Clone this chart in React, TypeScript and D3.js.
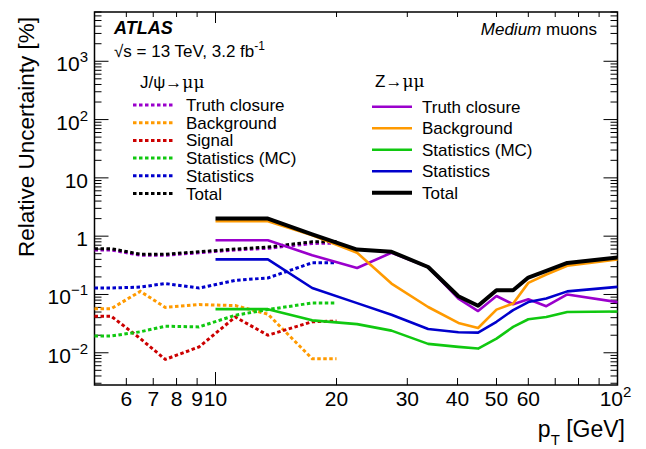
import React, { useEffect, useRef } from 'react'
import * as d3 from 'd3'

// J/psi -> mumu (dotted curves)
const jpsiPt = [5.0, 5.5, 6.5, 7.5, 9.1, 11.2, 13.5, 17.4, 20]
const jpsiTruth = [0.58, 0.58, 0.47, 0.47, 0.52, 0.58, 0.62, 0.75, 0.76]
const jpsiBkg = [0.057, 0.057, 0.113, 0.06, 0.067, 0.0645, 0.046, 0.0079, 0.0079]
const jpsiSignal = [0.0425, 0.0425, 0.0175, 0.0077, 0.0126, 0.041, 0.02, 0.034, 0.035]
const jpsiStatMC = [0.0194, 0.0194, 0.0229, 0.0285, 0.0278, 0.044, 0.055, 0.0716, 0.0716]
const jpsiStat = [0.129, 0.129, 0.134, 0.154, 0.129, 0.175, 0.192, 0.35, 0.35]
const jpsiTotal = [0.61, 0.61, 0.49, 0.49, 0.54, 0.6, 0.65, 0.8, 0.81]

// Z -> mumu (solid curves)
const zPt = [10, 13.5, 17.4, 22.5, 27.4, 33.8, 40.2, 45, 50, 55, 60, 66.5, 75, 100]
const zTruth = [0.85, 0.85, 0.47, 0.285, 0.52, 0.296, 0.085, 0.052, 0.094, 0.068, 0.083, 0.063, 0.1, 0.074]
const zBkg = [1.8, 1.8, 1.04, 0.52, 0.154, 0.061, 0.0325, 0.0266, 0.055, 0.07, 0.158, 0.22, 0.31, 0.4]
const zStatMC = [0.056, 0.056, 0.036, 0.031, 0.024, 0.0142, 0.0126, 0.0118, 0.0175, 0.0278, 0.0376, 0.041, 0.05, 0.051]
const zStat = [0.4, 0.4, 0.129, 0.071, 0.045, 0.0256, 0.0225, 0.0222, 0.034, 0.054, 0.074, 0.085, 0.113, 0.135]
const zTotal = [2.0, 2.0, 1.07, 0.59, 0.54, 0.296, 0.093, 0.064, 0.118, 0.118, 0.195, 0.253, 0.347, 0.43]

const xTickLabels = ['6', '7', '8', '9', '10', '20', '30', '40', '50', '60']
const yTickExponents = [-2, -1, 0, 1, 2, 3]

const colors = {
    truth: '#9a00cc',
    bkg: '#ff9a00',
    signal: '#cc0000',
    statMC: '#10c810',
    stat: '#0000cc',
    total: '#000000'
}

const jpsiSeries = [
    { name: 'Truth closure', values: jpsiTruth, color: colors.truth },
    { name: 'Background', values: jpsiBkg, color: colors.bkg },
    { name: 'Signal', values: jpsiSignal, color: colors.signal },
    { name: 'Statistics (MC)', values: jpsiStatMC, color: colors.statMC },
    { name: 'Statistics', values: jpsiStat, color: colors.stat },
    { name: 'Total', values: jpsiTotal, color: colors.total }
]

const zSeries = [
    { name: 'Truth closure', values: zTruth, color: colors.truth },
    { name: 'Background', values: zBkg, color: colors.bkg },
    { name: 'Statistics (MC)', values: zStatMC, color: colors.statMC },
    { name: 'Statistics', values: zStat, color: colors.stat },
    { name: 'Total', values: zTotal, color: colors.total }
]

const W = 646
const H = 449
const FONT = "'Liberation Sans', Arial, Helvetica, sans-serif"

const draw = (el: SVGSVGElement) => {
    const svg = d3.select(el)
    svg.selectAll('*').remove()

    const left = 94.5
    const right = 617.5
    const top = 12
    const bottom = 385

    const x = d3.scaleLog().domain([5, 100]).range([left, right])
    const y = d3.scaleLog().domain([0.0028, 7000]).range([bottom, top])

    // Frame
    svg.append('rect')
        .attr('x', left)
        .attr('y', top)
        .attr('width', right - left)
        .attr('height', bottom - top)
        .attr('fill', 'none')
        .attr('stroke', '#000')
        .attr('stroke-width', 1.5)

    // X ticks (bottom and top)
    const isPow10 = (v: number) => Math.abs(Math.log10(v) - Math.round(Math.log10(v))) < 1e-6
    const ticksG = svg.append('g').attr('stroke', '#000').attr('stroke-width', 1)
    x.ticks().forEach(t => {
        if (t <= 5 || t >= 100) return
        const major = isPow10(t)
        const px = x(t)
        ticksG.append('line').attr('x1', px).attr('x2', px).attr('y1', bottom).attr('y2', bottom - (major ? 13 : 7))
        ticksG.append('line').attr('x1', px).attr('x2', px).attr('y1', top).attr('y2', top + (major ? 11 : 5))
    })
    // Y ticks (left and right)
    y.ticks().forEach(t => {
        const py = y(t)
        if (py > bottom || py < top) return
        const major = isPow10(t)
        ticksG.append('line').attr('x1', left).attr('x2', left + (major ? 14 : 7)).attr('y1', py).attr('y2', py)
        ticksG.append('line').attr('x1', right).attr('x2', right - (major ? 14 : 7)).attr('y1', py).attr('y2', py)
    })

    // X tick labels
    const xl = svg.append('g').attr('font-family', FONT).attr('font-size', 21).attr('text-anchor', 'middle')
    xTickLabels.forEach(s => {
        xl.append('text').attr('x', x(+s)).attr('y', 406).text(s)
    })
    const x100 = xl.append('text').attr('x', x(100) - 2).attr('y', 406)
    x100.append('tspan').text('10')
    x100.append('tspan').attr('font-size', 15).attr('dy', -9).text('2')

    // Y tick labels
    const yl = svg.append('g').attr('font-family', FONT).attr('font-size', 21).attr('text-anchor', 'end')
    yTickExponents.forEach(e => {
        const t = yl.append('text').attr('x', 88).attr('y', y(Math.pow(10, e)) + 10)
        if (e === 0) t.text('1')
        else if (e === 1) t.text('10')
        else {
            t.append('tspan').text('10')
            t.append('tspan').attr('font-size', 15).attr('dy', -9).text(e < 0 ? '\u2212' + -e : String(e))
        }
    })

    // Axis titles
    const xt = svg.append('text')
        .attr('x', 625)
        .attr('y', 437)
        .attr('text-anchor', 'end')
        .attr('font-family', FONT)
        .attr('font-size', 23)
    xt.append('tspan').text('p')
    xt.append('tspan').attr('font-size', 15).attr('dy', 8).text('T')
    xt.append('tspan').attr('dy', -8).text(' [GeV]')

    svg.append('text')
        .attr('transform', 'translate(33.5,17) rotate(-90)')
        .attr('text-anchor', 'end')
        .attr('font-family', FONT)
        .attr('font-size', 22.5)
        .text('Relative Uncertainty [%]')

    // Curves
    const line = d3
        .line<[number, number]>()
        .x(d => x(d[0]))
        .y(d => y(d[1]))

    jpsiSeries.forEach(s => {
        svg.append('path')
            .datum(jpsiPt.map((p, i) => [p, s.values[i]] as [number, number]))
            .attr('d', line)
            .attr('fill', 'none')
            .attr('stroke', s.color)
            .attr('stroke-width', 3)
            .attr('stroke-dasharray', '3.5,2.5')
    })

    zSeries.forEach(s => {
        svg.append('path')
            .datum(zPt.map((p, i) => [p, s.values[i]] as [number, number]))
            .attr('d', line)
            .attr('fill', 'none')
            .attr('stroke', s.color)
            .attr('stroke-width', s.name === 'Total' ? 4 : 2.6)
            .attr('stroke-linejoin', 'round')
    })

    // Labels
    const txt = svg.append('g').attr('font-family', FONT).attr('font-size', 17)
    txt.append('text')
        .attr('x', 114)
        .attr('y', 34)
        .attr('font-weight', 'bold')
        .attr('font-style', 'italic')
        .attr('font-size', 18)
        .text('ATLAS')
    const lumi = txt.append('text').attr('x', 114).attr('y', 57)
    lumi.append('tspan').text('\u221As = 13 TeV, 3.2 fb')
    lumi.append('tspan').attr('font-size', 12).attr('dy', -7).text('-1')

    const med = txt.append('text').attr('x', 597).attr('y', 35).attr('text-anchor', 'end')
    med.append('tspan').attr('font-style', 'italic').text('Medium')
    med.append('tspan').text(' muons')

    // J/psi legend
    const jt = txt.append('text').attr('x', 140).attr('y', 88)
    jt.append('tspan').text('J/\u03C8\u2192')
    jt.append('tspan').attr('font-family', "'DejaVu Serif', serif").text('\u03BC\u03BC')
    jpsiSeries.forEach((s, i) => {
        const ly = 105 + i * 17.7
        svg.append('line')
            .attr('x1', 133)
            .attr('x2', 174)
            .attr('y1', ly)
            .attr('y2', ly)
            .attr('stroke', s.color)
            .attr('stroke-width', 3)
            .attr('stroke-dasharray', '3.5,2.5')
        txt.append('text').attr('x', 186).attr('y', ly + 6).text(s.name)
    })

    // Z legend
    const zt = txt.append('text').attr('x', 375).attr('y', 87)
    zt.append('tspan').text('Z\u2192')
    zt.append('tspan').attr('font-family', "'DejaVu Serif', serif").text('\u03BC\u03BC')
    zSeries.forEach((s, i) => {
        const ly = 106.7 + i * 21.5
        svg.append('line')
            .attr('x1', 372)
            .attr('x2', 412)
            .attr('y1', ly)
            .attr('y2', ly)
            .attr('stroke', s.color)
            .attr('stroke-width', s.name === 'Total' ? 4 : 2.6)
        txt.append('text').attr('x', 422).attr('y', ly + 6).text(s.name)
    })
}

const App = () => {
    const ref = useRef<SVGSVGElement>(null)
    useEffect(() => {
        if (ref.current) draw(ref.current)
    }, [])
    return (
        <svg
            ref={ref}
            width={W}
            height={H}
            style={{ position: 'absolute', left: 0, top: 0, background: '#fff' }}
        />
    )
}

export default App
